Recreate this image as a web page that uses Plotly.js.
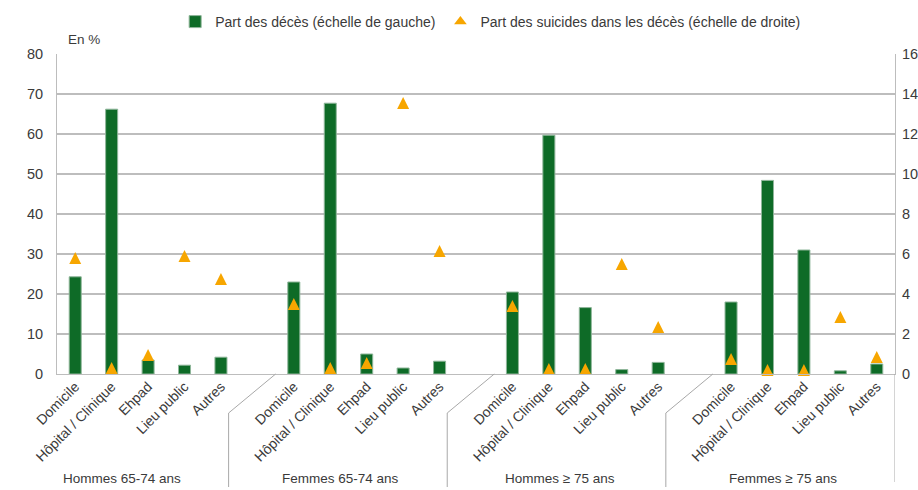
<!DOCTYPE html>
<html>
<head>
<meta charset="utf-8">
<script src="https://cdn.plot.ly/plotly-3.0.1.min.js"></script>
<style>html,body{margin:0;padding:0;background:#fff;}#chart{width:918px;height:490px;}</style>
</head>
<body>
<div id="chart"></div>
<script>
// ---- Data ----
var groups = ['Hommes 65-74 ans', 'Femmes 65-74 ans', 'Hommes ≥ 75 ans', 'Femmes ≥ 75 ans'];
var places = ['Domicile', 'Hôpital / Clinique', 'Ehpad', 'Lieu public', 'Autres'];

// Part des décès (%, échelle de gauche)
var decesHommes6574 = [24.3, 66.2, 3.5, 2.2, 4.2];
var decesFemmes6574 = [23.0, 67.7, 5.0, 1.5, 3.2];
var decesHommes75   = [20.5, 59.7, 16.6, 1.1, 2.9];
var decesFemmes75   = [18.0, 48.4, 31.0, 0.8, 2.5];

// Part des suicides dans les décès (%, échelle de droite)
var suicHommes6574 = [5.8, 0.3, 0.95, 5.9, 4.75];
var suicFemmes6574 = [3.5, 0.3, 0.55, 13.55, 6.15];
var suicHommes75   = [3.4, 0.25, 0.25, 5.5, 2.35];
var suicFemmes75   = [0.75, 0.2, 0.2, 2.85, 0.85];

var legendBars = 'Part des décès (échelle de gauche)';
var legendTri = 'Part des suicides dans les décès (échelle de droite)';

// ---- Build ----
var decesAll = [decesHommes6574, decesFemmes6574, decesHommes75, decesFemmes75];
var suicAll = [suicHommes6574, suicFemmes6574, suicHommes75, suicFemmes75];
var slotsPerGroup = places.length + 1;
var xs = [], yBar = [], yTri = [], tickText = [];
for (var g = 0; g < groups.length; g++) {
  for (var i = 0; i < places.length; i++) {
    xs.push(g * slotsPerGroup + i);
    yBar.push(decesAll[g][i]);
    yTri.push(suicAll[g][i]);
    tickText.push(places[i]);
  }
}
var nSlots = groups.length * slotsPerGroup - 1;
var xMin = -0.5, xMax = nSlots - 0.5;

var W = 918, H = 490, mL = 57, mR = 23, mT = 54, mB = 116;
var plotW = W - mL - mR, plotH = H - mT - mB;
var pxPerSlot = plotW / (xMax - xMin);

var GREEN = '#0e6b27', ORANGE = '#f7a600', TXT = '#3a3a3a', GRID = '#bdbdbd';
var FONT = 'Liberation Sans, Arial, Helvetica, sans-serif';

var y2Max = 16;
var triSize = 12;
var triShift = (triSize / 2) / (plotH / y2Max); // compensates the arrow-up tip anchor

var traces = [
  {
    type: 'bar', x: xs, y: yBar, name: legendBars, width: 0.33,
    marker: {color: GREEN, line: {color: '#8fb69a', width: 1}},
    yaxis: 'y', hoverinfo: 'y'
  },
  {
    type: 'scatter', mode: 'markers', x: xs, y: yTri, name: legendTri,
    showlegend: false, cliponaxis: false, yaxis: 'y3',
    marker: {symbol: 'arrow-up', size: triSize, color: ORANGE, line: {width: 0}}
  },
  {
    type: 'scatter', mode: 'markers', x: [null], y: [null], name: legendTri,
    yaxis: 'y2', showlegend: true,
    marker: {symbol: 'triangle-up', size: 11, color: ORANGE, line: {width: 0}}
  }
];

var shapes = [];
var dx = 47 / pxPerSlot;
var yKnee = -39 / plotH, yBottom = -113 / plotH;
for (var g = 0; g < groups.length; g++) {
  var b = xMin + g * slotsPerGroup;
  shapes.push({type: 'line', xref: 'x', yref: 'paper', x0: b, y0: 0, x1: b - dx, y1: yKnee,
               line: {color: '#a8a8a8', width: 1}});
  shapes.push({type: 'line', xref: 'x', yref: 'paper', x0: b - dx, y0: yKnee, x1: b - dx, y1: yBottom,
               line: {color: '#a8a8a8', width: 1}});
}
shapes.push({type: 'line', xref: 'x', yref: 'paper', x0: xMax, y0: 0, x1: xMax, y1: -108 / plotH,
             line: {color: '#a8a8a8', width: 1}});

var annotations = [
  {text: 'En %', xref: 'paper', yref: 'paper', x: 9 / plotW, y: 1 + 15 / plotH,
   xanchor: 'left', yanchor: 'middle', showarrow: false, font: {family: FONT, size: 13.5, color: TXT}}
];
for (var g = 0; g < groups.length; g++) {
  var left = xMin + g * slotsPerGroup - dx;
  var right = (g === groups.length - 1) ? xMax : xMin + (g + 1) * slotsPerGroup - dx;
  annotations.push({text: groups[g], xref: 'x', yref: 'paper', x: (left + right) / 2 + 3 / pxPerSlot, y: -104 / plotH,
    xanchor: 'center', yanchor: 'middle', showarrow: false, font: {family: FONT, size: 13.5, color: TXT}});
}

var layout = {
  width: W, height: H,
  margin: {l: mL, r: mR, t: mT, b: mB, pad: 0, autoexpand: false},
  paper_bgcolor: '#fff', plot_bgcolor: '#fff',
  font: {family: FONT, size: 14, color: TXT},
  bargap: 0,
  showlegend: true,
  legend: {orientation: 'h', x: 0.141, y: 1 + 32 / plotH, xanchor: 'left', yanchor: 'middle',
           font: {family: FONT, size: 14, color: TXT}, bgcolor: 'rgba(0,0,0,0)', itemclick: false},
  xaxis: {
    range: [xMin, xMax], tickmode: 'array', tickvals: xs, ticktext: tickText,
    tickangle: -45, showgrid: false, zeroline: false, showline: true, linecolor: GRID, linewidth: 1,
    ticks: '', ticklabelstandoff: -2, tickfont: {family: FONT, size: 14, color: TXT}, fixedrange: true
  },
  yaxis: {
    range: [0, 80], dtick: 10, tick0: 0, showgrid: true, gridcolor: GRID, gridwidth: 1.3,
    zeroline: false, showline: true, linecolor: GRID, linewidth: 1, ticks: '',
    ticklabelstandoff: 10, tickfont: {family: FONT, size: 14.5, color: TXT}, fixedrange: true
  },
  yaxis2: {
    range: [0, y2Max], dtick: 2, tick0: 0, overlaying: 'y', side: 'right', showgrid: false,
    zeroline: false, showline: true, linecolor: GRID, linewidth: 1, ticks: '',
    ticklabelstandoff: 3, tickfont: {family: FONT, size: 14.5, color: TXT}, fixedrange: true
  },
  yaxis3: {
    range: [-triShift, y2Max - triShift], overlaying: 'y', side: 'right', visible: false,
    showgrid: false, zeroline: false, fixedrange: true
  },
  shapes: shapes,
  annotations: annotations
};

Plotly.newPlot('chart', traces, layout, {displayModeBar: false, staticPlot: true});
</script>
</body>
</html>
